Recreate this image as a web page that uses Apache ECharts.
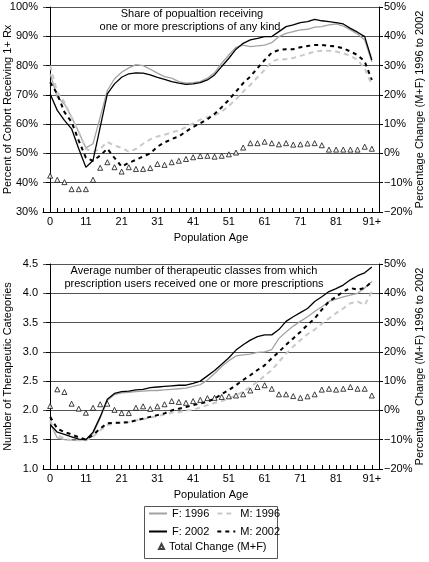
<!DOCTYPE html>
<html><head><meta charset="utf-8">
<script src="https://cdn.jsdelivr.net/npm/echarts@6/dist/echarts.min.js"></script>
<style>html,body{margin:0;padding:0;background:#fff}#c{width:429px;height:562px}</style>
</head><body><div id="c"></div>
<script>
const ageLabels = ['0','3','5','7','9','11','13','15','17','19','21','23','25','27','29','31','33','35','37','39','41','43','45','47','49','51','53','55','57','59','61','63','65','67','69','71','73','75','77','79','81','83','85','87','89','91+'];

// Top panel: share receiving 1+ Rx (%)
const f1996Share = [77.2,69.2,66.9,62.4,57.3,51.9,53.3,62.4,71.5,75.5,77.7,79.2,80.3,80,78.75,77.4,76.25,75.7,74.5,74,74.2,74.5,75.7,77.5,80.8,83.6,86.25,87,86.5,86.7,87,87.8,89.9,91,91.6,92.2,92.4,93.1,93.3,93.9,94.2,93.5,92.2,90.8,88.75,81.3];
const m1996Share = [80,70.9,67.5,62.4,57.3,51.6,50.5,51.6,53.9,52.7,51.9,50.6,51.5,53.3,54.8,55.8,56.4,57.2,57.8,59,60.3,61.5,62.4,63,64.3,66.25,68.5,71.1,73.4,76,78.5,81.4,82.2,82.2,82.6,83.3,84,84.8,85.1,85.1,84.8,84.2,83.3,81.9,79.1,73.4];
const f2002Share = [70.3,64.7,61.3,58.4,51.6,45.3,47.6,59,70.3,73.75,76,77.2,77.5,77.4,76.8,76,75.3,74.5,74,73.6,73.75,74.2,75.1,76.8,79.7,82.5,85.6,87.6,88.75,89.3,89.9,89.9,91.6,93.3,93.9,94.7,95,95.8,95.3,95,94.7,94.2,92.7,91.4,89.9,81.9];
const m2002Share = [74.3,70.3,64.1,60.7,54.4,48.5,47.5,49.3,51.6,48.5,45.5,46.8,47.8,49,50,52.3,53.75,54.9,55.8,57.5,59,60.3,61.7,63.5,65.8,68.3,71.1,74,76.25,79.1,81.9,84.4,85.3,85.6,85.6,86.25,86.7,87,87,86.7,86.5,85.9,84.8,83.6,81.4,75.1];
const totalShare = [-7.6,-9,-9.8,-12.2,-12.2,-12.2,-9,-4.9,-3,-4.7,-6.2,-4.7,-5.3,-5.3,-5,-3.6,-3.9,-3,-2.5,-1.9,-1.3,-0.9,-0.8,-1.1,-0.8,-0.3,0.3,2,3.5,3.5,4,3.5,3.1,3.5,3,3.1,3.4,3.5,2.8,1.3,1.3,1.3,1.3,1.3,2.3,1.6];

// Bottom panel: average number of therapeutic classes
const f1996Classes = [1.78,1.53,1.5,1.49,1.49,1.5,1.6,1.87,2.17,2.27,2.3,2.31,2.32,2.33,2.34,2.34,2.35,2.36,2.37,2.38,2.41,2.44,2.52,2.63,2.75,2.85,2.93,2.95,2.96,2.99,3.0,3.04,3.23,3.34,3.44,3.52,3.6,3.69,3.77,3.86,3.9,3.94,3.97,4.0,4.09,4.2];
const m1996Classes = [1.83,1.58,1.52,1.49,1.49,1.49,1.55,1.66,1.75,1.78,1.79,1.8,1.83,1.85,1.88,1.9,1.93,1.96,1.97,2.0,2.01,2.05,2.09,2.13,2.16,2.2,2.26,2.32,2.4,2.49,2.59,2.69,2.83,2.97,3.09,3.2,3.3,3.38,3.48,3.57,3.66,3.74,3.83,3.86,3.8,4.03];
const f2002Classes = [1.76,1.63,1.59,1.55,1.51,1.5,1.63,1.89,2.19,2.29,2.32,2.33,2.35,2.36,2.39,2.4,2.41,2.42,2.43,2.43,2.46,2.5,2.59,2.68,2.79,2.9,3.03,3.12,3.2,3.26,3.29,3.29,3.38,3.52,3.6,3.67,3.74,3.86,3.94,4.03,4.08,4.14,4.23,4.3,4.35,4.45];
const m2002Classes = [1.89,1.69,1.63,1.59,1.54,1.5,1.58,1.69,1.78,1.79,1.79,1.8,1.83,1.86,1.89,1.92,1.95,2.0,2.03,2.06,2.09,2.12,2.15,2.2,2.28,2.35,2.43,2.52,2.6,2.69,2.77,2.89,3.0,3.12,3.23,3.34,3.46,3.57,3.72,3.86,3.94,4.03,4.09,4.06,4.09,4.2];
const totalClasses = [1.5,7.2,6.3,2.3,0.6,-0.8,0.9,2.1,2.3,0.2,-0.9,-0.9,0.9,1.4,0.5,1.4,2.1,3.2,2.9,2.6,3.2,3.6,4.2,4.3,4.6,4.8,5.1,5.5,6.8,8.0,8.6,7.4,5.5,5.5,4.9,4.3,4.8,5.5,7.1,7.4,7.1,7.4,8.0,7.4,7.4,5.1];

const seriesNames = ['F: 1996','M: 1996','F: 2002','M: 2002','Total Change (M+F)'];
const topNote = ['Share of popualtion receiving','one or more prescriptions of any kind'];
const bottomNote = ['Average number of therapeutic classes from which','prescription users received one or more prescriptions'];

const FONT = 'Liberation Sans, Arial, sans-serif';
const txt = {color:'#000', fontSize:11, fontFamily:FONT};
const pct = v => (v < 0 ? '\u2212' + Math.abs(v) : v) + '%';
const pairs = arr => arr.map((v,i) => [i, v]);

function xAxis(gridIndex){
  return {
    type:'value', gridIndex, min:-1, max:46, interval:1,
    name:'Population Age', nameLocation:'middle', nameGap:20, nameTextStyle:txt, nameMoveOverlap:false,
    axisLine:{show:true, onZero:false, lineStyle:{color:'#000', width:1}},
    axisTick:{show:true, inside:true, length:4, lineStyle:{color:'#000'}},
    axisLabel:{...txt, margin:4, showMinLabel:true, showMaxLabel:true,
      formatter: v => (v >= 0 && v <= 45 && v % 5 === 0) ? ageLabels[v] : ''},
    splitLine:{show:false}
  };
}
function leftAxis(gridIndex, min, max, interval, fmt, name){
  return {
    type:'value', gridIndex, position:'left', min, max, interval,
    name, nameLocation:'middle', nameGap:30, nameTextStyle:txt, nameMoveOverlap:false,
    axisLine:{show:true, lineStyle:{color:'#000'}},
    axisTick:{show:true, length:4, lineStyle:{color:'#000'}},
    axisLabel:{...txt, margin:5, formatter:fmt},
    splitLine:{show:true, lineStyle:{color:'#555', width:1}}
  };
}
function rightAxis(gridIndex){
  return {
    type:'value', gridIndex, position:'right', min:-20, max:50, interval:10,
    name:'Percentage Change (M+F) 1996 to 2002', nameLocation:'middle', nameGap:35, nameTextStyle:txt, nameMoveOverlap:false,
    axisLine:{show:true, lineStyle:{color:'#000'}},
    axisTick:{show:true, length:4, lineStyle:{color:'#000'}},
    axisLabel:{...txt, margin:5, formatter:pct},
    splitLine:{show:false}
  };
}
const styles = [
  {color:'#a3a3a3', width:1.3, type:'solid'},
  {color:'#c9c9c9', width:2, type:[5,4]},
  {color:'#000', width:1.3, type:'solid'},
  {color:'#000', width:2, type:[4,4]}
];
function lineSeries(name, data, xi, yi, st, z){
  return {name, type:'line', xAxisIndex:xi, yAxisIndex:yi, data:pairs(data), symbol:'none',
    lineStyle:st, itemStyle:{color:st.color}, z, animation:false};
}
function triSeries(data, xi, yi){
  return {name:seriesNames[4], type:'scatter', xAxisIndex:xi, yAxisIndex:yi, data:pairs(data),
    symbol:'triangle', symbolSize:[5,5], itemStyle:{color:'#fff', borderColor:'#111', borderWidth:1}, z:5, animation:false};
}

const chart = echarts.init(document.getElementById('c'), null, {renderer:'canvas'});
chart.setOption({
  animation:false,
  textStyle:{fontFamily:FONT},
  grid:[
    {left:43, top:7, width:336, height:205, outerBoundsMode:'none', containLabel:false},
    {left:43, top:264, width:336, height:205, outerBoundsMode:'none', containLabel:false}
  ],
  xAxis:[xAxis(0), xAxis(1)],
  yAxis:[
    leftAxis(0, 30, 100, 10, v => v + '%', 'Percent of Cohort Receiving 1+ Rx'),
    rightAxis(0),
    leftAxis(1, 1, 4.5, 0.5, v => v.toFixed(1), 'Number of Therapeutic Categories'),
    rightAxis(1)
  ],
  legend:[
    {data:seriesNames.slice(0,4), orient:'horizontal', left:148, top:508, width:170, padding:0, itemGap:7,
      itemWidth:18, itemHeight:10, itemStyle:{opacity:0}, textStyle:{...txt, lineHeight:11}},
    {data:[seriesNames[4]], left:158, top:541, padding:0, itemWidth:5, itemHeight:5,
      textStyle:{...txt, lineHeight:11}}
  ],
  graphic:[
    {type:'rect', shape:{x:144.5, y:506.5, width:133, height:52}, style:{fill:null, stroke:'#555', lineWidth:1}, z:-1},
    {type:'text', style:{text:topNote[0], x:192, y:14, align:'center', verticalAlign:'middle', font:'11px '+FONT, fill:'#000'}},
    {type:'text', style:{text:topNote[1], x:190, y:26.5, align:'center', verticalAlign:'middle', font:'11px '+FONT, fill:'#000'}},
    {type:'text', style:{text:bottomNote[0], x:194, y:271, align:'center', verticalAlign:'middle', font:'11px '+FONT, fill:'#000'}},
    {type:'text', style:{text:bottomNote[1], x:194, y:284, align:'center', verticalAlign:'middle', font:'11px '+FONT, fill:'#000'}}
  ],
  series:[
    lineSeries(seriesNames[0], f1996Share, 0, 0, styles[0], 2),
    lineSeries(seriesNames[1], m1996Share, 0, 0, styles[1], 2),
    lineSeries(seriesNames[2], f2002Share, 0, 0, styles[2], 3),
    lineSeries(seriesNames[3], m2002Share, 0, 0, styles[3], 3),
    triSeries(totalShare, 0, 1),
    lineSeries(seriesNames[0], f1996Classes, 1, 2, styles[0], 2),
    lineSeries(seriesNames[1], m1996Classes, 1, 2, styles[1], 2),
    lineSeries(seriesNames[2], f2002Classes, 1, 2, styles[2], 3),
    lineSeries(seriesNames[3], m2002Classes, 1, 2, styles[3], 3),
    triSeries(totalClasses, 1, 3)
  ]
});
</script></body></html>
